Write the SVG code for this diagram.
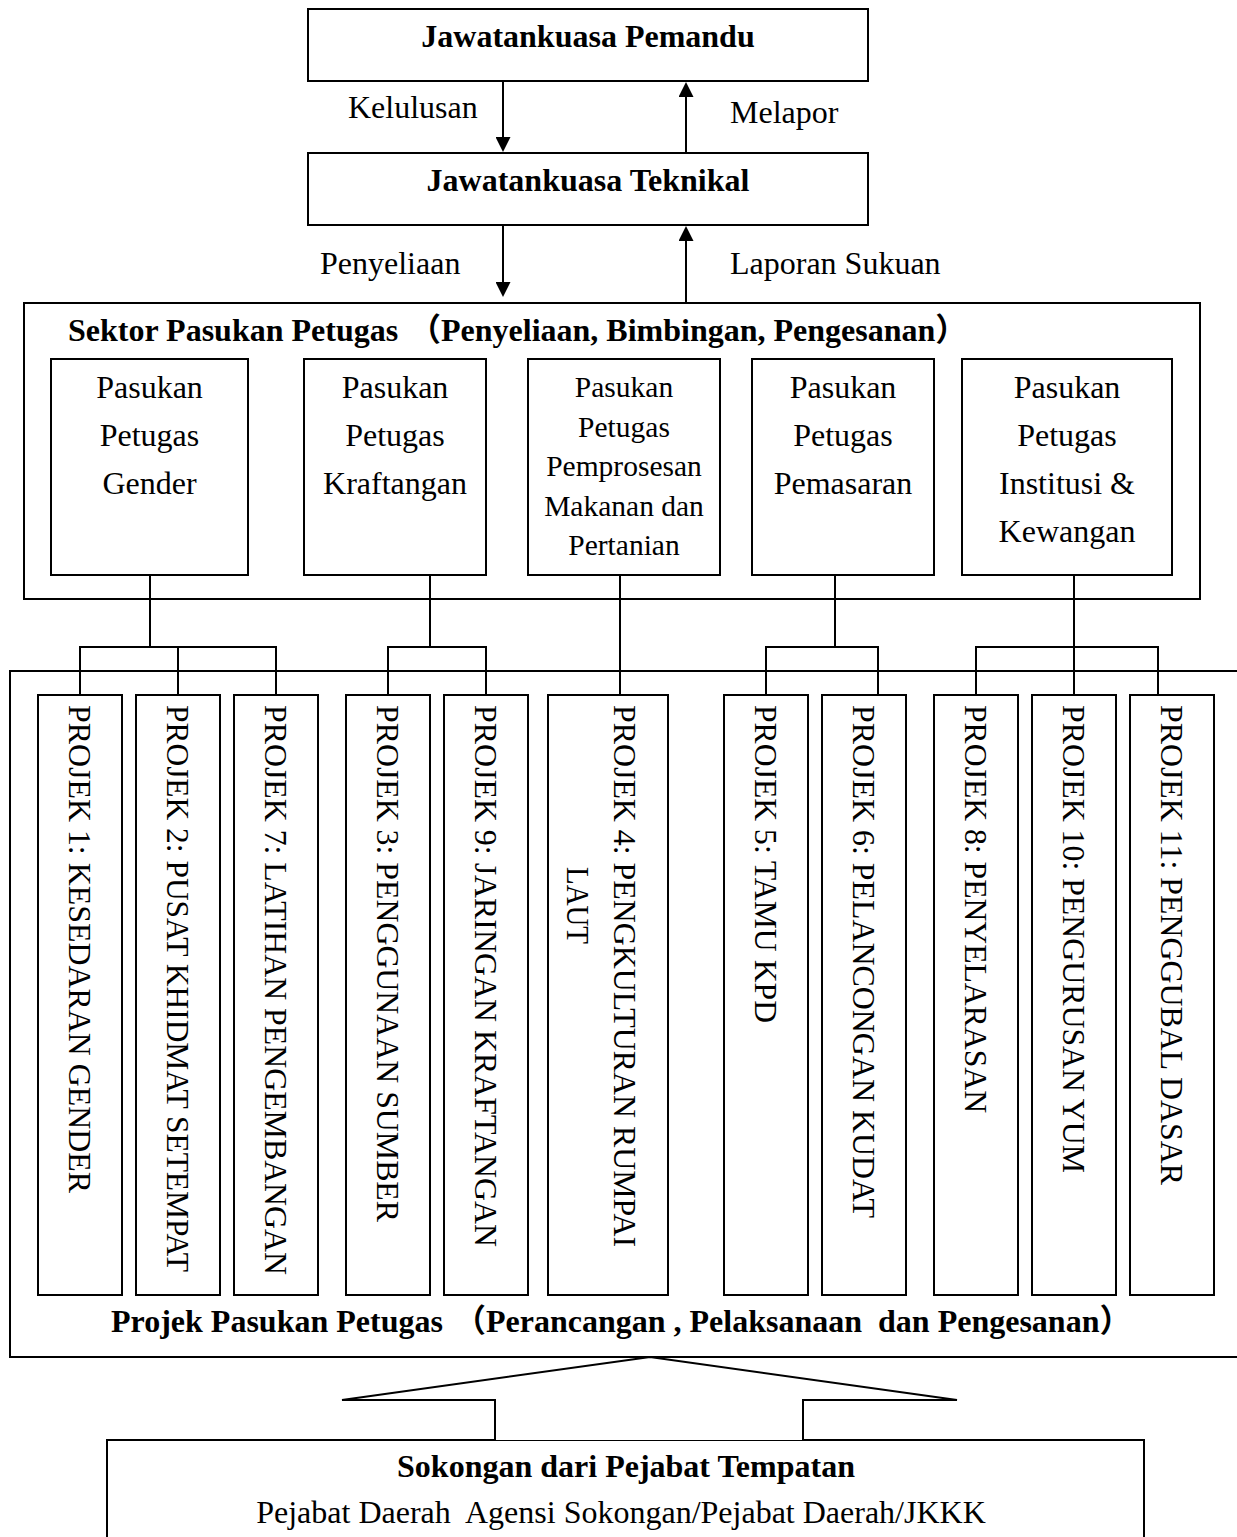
<svg xmlns="http://www.w3.org/2000/svg" width="1237" height="1537" viewBox="0 0 1237 1537">
<style>
.box{fill:#fff;stroke:#000;stroke-width:2}
.ln{fill:none;stroke:#000;stroke-width:2}
.t{font-family:"Liberation Serif","Times New Roman",serif;font-size:32px;fill:#000}
.b{font-weight:bold}
.c{text-anchor:middle}
.s{font-size:29.5px}
.cj{font-family:"Noto Sans CJK SC",sans-serif}
.pre{white-space:pre}
</style>
<defs>
<marker id="ah" markerUnits="userSpaceOnUse" viewBox="0 0 15 15" markerWidth="15" markerHeight="15" refX="0" refY="7.5" orient="auto">
<path d="M0,0 L15,7.5 L0,15 z" fill="#000"/>
</marker>
</defs>
<rect width="1237" height="1537" fill="#fff"/>

<g id="n-pemandu">
<rect class="box" x="308" y="9" width="560" height="72"/>
<text class="t b c" x="588" y="47">Jawatankuasa Pemandu</text>
</g>

<g id="n-teknikal">
<rect class="box" x="308" y="153" width="560" height="72"/>
<text class="t b c" x="588" y="191">Jawatankuasa Teknikal</text>
</g>

<g id="n-sektor">
<rect class="box" x="24" y="303" width="1176" height="296"/>
<text class="t b" x="68" y="341">Sektor Pasukan Petugas<tspan x="409" class="cj">（</tspan>Penyeliaan, Bimbingan, Pengesanan<tspan class="cj">）</tspan></text>
</g>

<g id="n-gender">
<rect class="box" x="51" y="359" width="197" height="216"/>
<text class="t c" x="149.5" y="398">Pasukan</text>
<text class="t c" x="149.5" y="446">Petugas</text>
<text class="t c" x="149.5" y="494">Gender</text>
</g>

<g id="n-kraftangan">
<rect class="box" x="304" y="359" width="182" height="216"/>
<text class="t c" x="395" y="398">Pasukan</text>
<text class="t c" x="395" y="446">Petugas</text>
<text class="t c" x="395" y="494">Kraftangan</text>
</g>

<g id="n-pemprosesan">
<rect class="box" x="528" y="359" width="192" height="216"/>
<text class="t s c" x="624" y="397">Pasukan</text>
<text class="t s c" x="624" y="437">Petugas</text>
<text class="t s c" x="624" y="476">Pemprosesan</text>
<text class="t s c" x="624" y="516">Makanan dan</text>
<text class="t s c" x="624" y="555">Pertanian</text>
</g>

<g id="n-pemasaran">
<rect class="box" x="752" y="359" width="182" height="216"/>
<text class="t c" x="843" y="398">Pasukan</text>
<text class="t c" x="843" y="446">Petugas</text>
<text class="t c" x="843" y="494">Pemasaran</text>
</g>

<g id="n-institusi">
<rect class="box" x="962" y="359" width="210" height="216"/>
<text class="t c" x="1067" y="398">Pasukan</text>
<text class="t c" x="1067" y="446">Petugas</text>
<text class="t c" x="1067" y="494">Institusi &amp;</text>
<text class="t c" x="1067" y="542">Kewangan</text>
</g>

<g id="n-projek">
<path class="ln" d="M1240,671 H10 V1357 H1240"/>
<text class="t b pre" x="111" y="1332">Projek Pasukan Petugas<tspan x="454" class="cj">（</tspan>Perancangan , Pelaksanaan  dan Pengesanan<tspan class="cj">）</tspan></text>
</g>

<g id="p1">
<rect class="box" x="38" y="695" width="84" height="600"/>
<text class="t" transform="translate(69,705) rotate(90)" textLength="488" lengthAdjust="spacingAndGlyphs">PROJEK 1: KESEDARAN GENDER</text>
</g>
<g id="p2">
<rect class="box" x="136" y="695" width="84" height="600"/>
<text class="t" transform="translate(167,705) rotate(90)" textLength="567" lengthAdjust="spacingAndGlyphs">PROJEK 2: PUSAT KHIDMAT SETEMPAT</text>
</g>
<g id="p7">
<rect class="box" x="234" y="695" width="84" height="600"/>
<text class="t" transform="translate(265,705) rotate(90)" textLength="570" lengthAdjust="spacingAndGlyphs">PROJEK 7: LATIHAN PENGEMBANGAN</text>
</g>
<g id="p3">
<rect class="box" x="346" y="695" width="84" height="600"/>
<text class="t" transform="translate(377,705) rotate(90)" textLength="517" lengthAdjust="spacingAndGlyphs">PROJEK 3: PENGGUNAAN SUMBER</text>
</g>
<g id="p9">
<rect class="box" x="444" y="695" width="84" height="600"/>
<text class="t" transform="translate(475,705) rotate(90)" textLength="542" lengthAdjust="spacingAndGlyphs">PROJEK 9: JARINGAN KRAFTANGAN</text>
</g>
<g id="p4">
<rect class="box" x="548" y="695" width="120" height="600"/>
<text class="t" transform="translate(614,705) rotate(90)" textLength="542" lengthAdjust="spacingAndGlyphs">PROJEK 4: PENGKULTURAN RUMPAI</text>
<text class="t" transform="translate(567,867) rotate(90)" textLength="77" lengthAdjust="spacingAndGlyphs">LAUT</text>
</g>
<g id="p5">
<rect class="box" x="724" y="695" width="84" height="600"/>
<text class="t" transform="translate(755,705) rotate(90)" textLength="318" lengthAdjust="spacingAndGlyphs">PROJEK 5: TAMU KPD</text>
</g>
<g id="p6">
<rect class="box" x="822" y="695" width="84" height="600"/>
<text class="t" transform="translate(853,705) rotate(90)" textLength="513" lengthAdjust="spacingAndGlyphs">PROJEK 6: PELANCONGAN KUDAT</text>
</g>
<g id="p8">
<rect class="box" x="934" y="695" width="84" height="600"/>
<text class="t" transform="translate(965,705) rotate(90)" textLength="408" lengthAdjust="spacingAndGlyphs">PROJEK 8: PENYELARASAN</text>
</g>
<g id="p10">
<rect class="box" x="1032" y="695" width="84" height="600"/>
<text class="t" transform="translate(1063,705) rotate(90)" textLength="468" lengthAdjust="spacingAndGlyphs">PROJEK 10: PENGURUSAN YUM</text>
</g>
<g id="p11">
<rect class="box" x="1130" y="695" width="84" height="600"/>
<text class="t" transform="translate(1161,705) rotate(90)" textLength="480" lengthAdjust="spacingAndGlyphs">PROJEK 11: PENGGUBAL DASAR</text>
</g>

<g id="n-sokongan">
<rect class="box" x="107" y="1440" width="1037" height="140"/>
<text class="t b c" x="626" y="1477">Sokongan dari Pejabat Tempatan</text>
<text class="t c pre" x="621" y="1523">Pejabat Daerah  Agensi Sokongan/Pejabat Daerah/JKKK</text>
</g>

<g id="connectors">
<line class="ln" x1="503" y1="81" x2="503" y2="137" marker-end="url(#ah)"/>
<line class="ln" x1="686" y1="153" x2="686" y2="97" marker-end="url(#ah)"/>
<line class="ln" x1="503" y1="225" x2="503" y2="282" marker-end="url(#ah)"/>
<line class="ln" x1="686" y1="303" x2="686" y2="241" marker-end="url(#ah)"/>
<text class="t" x="348" y="118">Kelulusan</text>
<text class="t" x="730" y="123">Melapor</text>
<text class="t" x="320" y="274">Penyeliaan</text>
<text class="t" x="730" y="274">Laporan Sukuan</text>

<path class="ln" d="M150,575 V647 M80,695 V647 H276 V695 M178,647 V695"/>
<path class="ln" d="M430,575 V647 M388,695 V647 H486 V695"/>
<path class="ln" d="M620,575 V695"/>
<path class="ln" d="M835,575 V647 M766,695 V647 H878 V695"/>
<path class="ln" d="M1074,575 V695 M976,695 V647 H1158 V695"/>

<polyline class="box" points="495,1440 495,1400 342,1400 650,1357 957,1400 803,1400 803,1440"/>
</g>
</svg>
